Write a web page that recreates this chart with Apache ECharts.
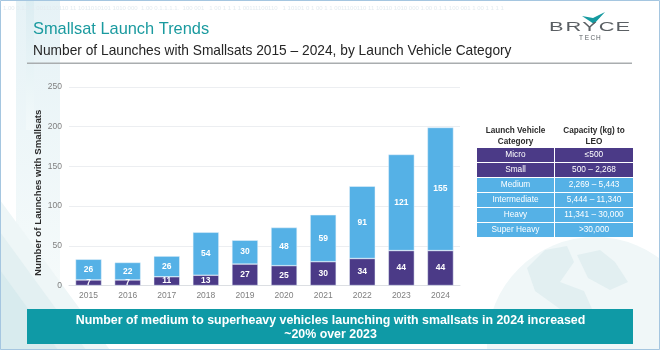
<!DOCTYPE html>
<html>
<head>
<meta charset="utf-8">
<style>
  html, body { margin: 0; padding: 0; background: #fff; }
  #chart { width: 660px; height: 350px; }
</style>
<script src="https://cdn.jsdelivr.net/npm/echarts@6/dist/echarts.min.js"></script>
</head>
<body>
<div id="chart"></div>
<script>
const years = ["2015", "2016", "2017", "2018", "2019", "2020", "2021", "2022", "2023", "2024"];
const microSmall = [7, 7, 11, 13, 27, 25, 30, 34, 44, 44];
const mediumUp = [26, 22, 26, 54, 30, 48, 59, 91, 121, 155];

const tableHead = [["Launch Vehicle", "Category"], ["Capacity (kg) to", "LEO"]];
const tableCategories = ["Micro", "Small", "Medium", "Intermediate", "Heavy", "Super Heavy"];
const tableCapacities = ["≤500", "500 – 2,268", "2,269 – 5,443", "5,444 – 11,340", "11,341 – 30,000", ">30,000"];

const PURPLE = "#4b3a87";
const BLUE = "#55b1e6";
const TEAL = "#0f9aa6";
const FONT = "Liberation Sans";

const text = (x, y, str, size, fill, extra) => ({
  type: "text",
  x, y,
  silent: true,
  style: Object.assign({
    text: str, fontFamily: FONT, fontSize: size, fill,
    textAlign: "left", textVerticalAlign: "middle"
  }, extra)
});
const rect = (x, y, w, h, fill, z) => ({
  type: "rect",
  silent: true,
  z: z || 0,
  shape: { x, y, width: w, height: h },
  style: { fill }
});
const shape = (points, fill, z) => ({
  type: "polygon",
  silent: true,
  z: z || 0,
  shape: { points },
  style: { fill }
});
const fade = (from, to) => ({
  type: "linear", x: 0, y: 0, x2: 0, y2: 1,
  colorStops: [{ offset: 0, color: from }, { offset: 1, color: to }]
});

const graphics = [];

// backdrop: vertical strip, diagonal bands bottom left, globe bottom right
graphics.push(rect(16, 0, 44, 300, fade("#e6f2f6", "#f6fbfb"), -4));
graphics.push(rect(26, 0, 8, 130, fade("#dcedf2", "#f2f9fa"), -4));
graphics.push(shape([[0, 200], [110, 350], [0, 350]], "#eef6f7", -3));
graphics.push(shape([[0, 232], [86, 350], [0, 350]], "#e3f0f2", -3));
graphics.push(shape([[0, 270], [58, 350], [0, 350]], "#d8ebee", -3));
graphics.push({
  type: "circle", silent: true, z: -3,
  shape: { cx: 595, cy: 345, r: 108 },
  style: { fill: "#f0f7f8" }
});
graphics.push(shape([[527, 268], [545, 250], [567, 246], [574, 262], [560, 282], [584, 291], [592, 309], [560, 309], [535, 291]], "#e2eff1", -2));
graphics.push(shape([[577, 255], [600, 250], [615, 262], [628, 282], [610, 290], [588, 278]], "#e2eff1", -2));
graphics.push(text(3, 8, "1.00 0.1.0.1 0011100110 11 1011010101 1010 000  1.00 0.1.1.1.1.  100 001   1 00 1 1 1 1 00111100110   1 10101 0 1 00 1 1 0011100110 11 10110 1010 000 1.00 0.1.1 100 001 1 00 1 1 1 1", 6, "#e3ebf0", { z: -3 }));

// frame
graphics.push({
  type: "rect", silent: true, z: -1,
  shape: { x: 0.5, y: 0.5, width: 659, height: 349 },
  style: { fill: "none", stroke: "#a5c6e0", lineWidth: 1 }
});

// header
graphics.push(text(33, 29, "Smallsat Launch Trends", 16.4, "#1a9a9f"));
graphics.push(text(33, 51, "Number of Launches with Smallsats 2015 – 2024, by Launch Vehicle Category", 13.75, "#262626"));
graphics.push(rect(27, 62.5, 605, 1.5, "#a9adaf"));

// logo, one letter at a time so the word can be spaced out
graphics.push(shape([[582, 16], [593, 18], [605, 12], [594, 24]], "#169aa0"));
["B", "R", "Y", "C", "E"].forEach((letter, i) => {
  const el = text(0, 0, letter, 12.5, "#5a5f63", { x: 0, y: 0 });
  el.x = 549 + i * 16.6;
  el.y = 28;
  el.scaleX = 1.75;
  el.originX = 0;
  el.originY = 0;
  graphics.push(el);
});
["T", "E", "C", "H"].forEach((letter, i) => {
  graphics.push(text(579 + i * 5.7, 38, letter, 6.5, "#5a5f63", { }));
});

// lookup table
const colX = [477, 555];
const colW = [77, 78];
const rowY = [148, 163, 178, 193, 208, 223];
const rowH = 14;
tableHead.forEach((lines, c) => {
  const cx = colX[c] + colW[c] / 2;
  lines.forEach((line, i) => {
    graphics.push(text(cx, 131 + i * 10.5, line, 8.2, "#2b2b2b", { textAlign: "center", fontWeight: "bold" }));
  });
});
tableCategories.forEach((name, r) => {
  const fill = r < 2 ? PURPLE : BLUE;
  graphics.push(rect(colX[0], rowY[r], colW[0], rowH, fill));
  graphics.push(rect(colX[1], rowY[r], colW[1], rowH, fill));
  graphics.push(text(colX[0] + colW[0] / 2, rowY[r] + rowH / 2, name, 8.3, "#fff", { textAlign: "center" }));
  graphics.push(text(colX[1] + colW[1] / 2, rowY[r] + rowH / 2, tableCapacities[r], 8.3, "#fff", { textAlign: "center" }));
});

// takeaway banner
graphics.push(rect(27, 309, 606, 35, TEAL));
graphics.push(text(330.5, 320.5, "Number of medium to superheavy vehicles launching with smallsats in 2024 increased", 12.4, "#fff", { textAlign: "center", fontWeight: "bold" }));
graphics.push(text(330.5, 335, "~20% over 2023", 12.4, "#fff", { textAlign: "center", fontWeight: "bold" }));

const barLabel = {
  show: true,
  position: "inside",
  color: "#fff",
  fontFamily: FONT,
  fontSize: 8.5,
  fontWeight: "bold"
};

const option = {
  animation: false,
  textStyle: { fontFamily: FONT },
  grid: { left: 69, right: 200, top: 87, height: 198.5 },
  xAxis: {
    type: "category",
    data: years,
    axisTick: { show: false },
    axisLine: { lineStyle: { color: "#dcdfe3", width: 1 } },
    axisLabel: { color: "#7f7f7f", fontSize: 8.5, margin: 6 }
  },
  yAxis: {
    type: "value",
    min: 0,
    max: 250,
    interval: 50,
    name: "Number of Launches with Smallsats",
    nameLocation: "middle",
    nameGap: 26,
    nameMoveOverlap: false,
    nameTextStyle: { color: "#2b2b2b", fontSize: 9.7, fontWeight: "bold", padding: [0, 13, 0, 0] },
    axisLine: { show: false },
    axisTick: { show: false },
    axisLabel: { color: "#7f7f7f", fontSize: 8.5, margin: 7 },
    splitLine: { lineStyle: { color: "#eceef1", width: 1 } }
  },
  series: [
    {
      name: "Micro and Small",
      type: "bar",
      stack: "launches",
      data: microSmall,
      barWidth: 26,
      itemStyle: { color: PURPLE, borderColor: "#e8f3fa", borderWidth: 0.5 },
      label: barLabel
    },
    {
      name: "Medium and above",
      type: "bar",
      stack: "launches",
      data: mediumUp,
      barWidth: 26,
      itemStyle: { color: BLUE, borderColor: "#e8f3fa", borderWidth: 0.5 },
      label: barLabel
    }
  ],
  graphic: { elements: graphics }
};

const chart = echarts.init(document.getElementById("chart"));
chart.setOption(option);
</script>
</body>
</html>
